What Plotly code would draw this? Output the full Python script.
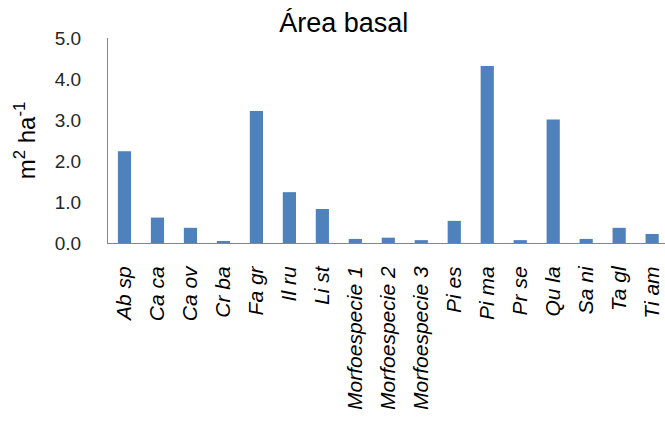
import plotly.graph_objects as go

species = ["Ab sp", "Ca ca", "Ca ov", "Cr ba", "Fa gr", "Il ru", "Li st",
           "Morfoespecie 1", "Morfoespecie 2", "Morfoespecie 3", "Pi es",
           "Pi ma", "Pr se", "Qu la", "Sa ni", "Ta gl", "Ti am"]
basal_area = [2.24, 0.62, 0.37, 0.05, 3.22, 1.24, 0.83,
              0.10, 0.13, 0.07, 0.54, 4.32, 0.07, 3.01, 0.10, 0.37, 0.22]
y_ticks = [0, 1, 2, 3, 4, 5]
y_tick_text = ["0.0", "1.0", "2.0", "3.0", "4.0", "5.0"]

fig = go.Figure(go.Bar(
    x=species, y=basal_area,
    marker=dict(color="#4F81BD", line=dict(width=0)),
))

fig.update_layout(
    width=665, height=427,
    margin=dict(l=108, r=0, t=38, b=184),
    paper_bgcolor="white", plot_bgcolor="white",
    bargap=0.6,
    showlegend=False,
    font=dict(family="Liberation Sans, Arial, sans-serif", color="#000000"),
    title=dict(text="Área basal", x=0.517, xanchor="center", y=0.948, yanchor="middle",
               font=dict(size=27, color="#000000")),
)

fig.update_xaxes(
    range=[-0.5, 16.39],
    tickangle=-90,
    tickfont=dict(size=21, family="Liberation Sans, Arial, sans-serif", style="italic",
                  color="#000000"),
    ticklabelstandoff=14,
    showline=True, linecolor="#868686", linewidth=1,
    ticks="", showgrid=False,
)

fig.update_yaxes(
    range=[0, 5],
    tickvals=y_ticks, ticktext=y_tick_text,
    tickfont=dict(size=19, color="#262626"),
    ticklabelstandoff=22,
    showline=True, linecolor="#868686", linewidth=1,
    ticks="", showgrid=False, zeroline=False,
    title=dict(text="m<sup>2</sup> ha<sup>-1</sup>", font=dict(size=24), standoff=12),
)

fig.write_html("out.html")
